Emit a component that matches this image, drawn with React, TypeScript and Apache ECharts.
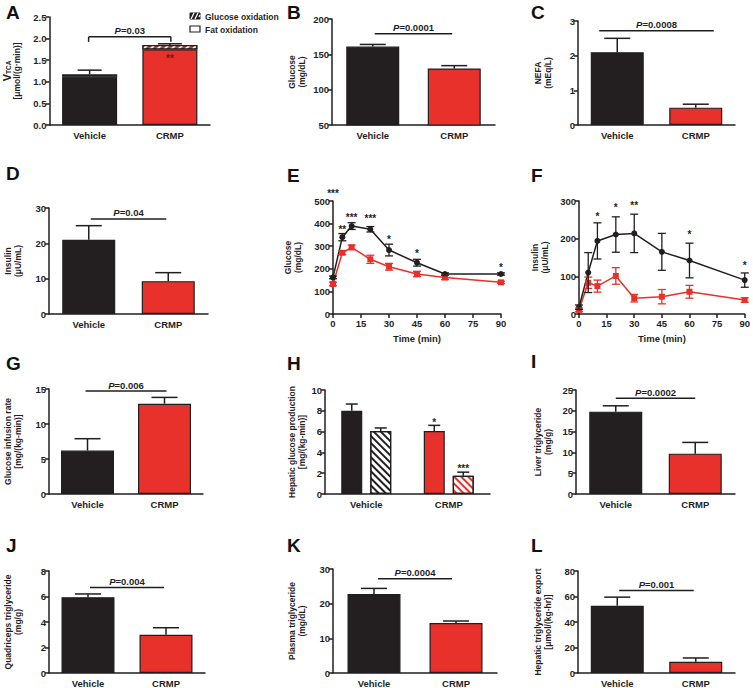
import React, { useEffect, useRef } from 'react';
import * as echarts from 'echarts';

// ---------------- data ----------------
const categories = ['Vehicle', 'CRMP'];

// A: V_TCA
const aFatOxidation = [1.12, 1.75];
const aGlucoseOxidation = [0.05, 0.1];
const aSem = [0.1, 0.03];
// B: glucose
const bGlucose = [161, 130];
const bSem = [3, 4];
// C: NEFA
const cNefa = [2.1, 0.5];
const cSem = [0.4, 0.1];
// D: insulin
const dInsulin = [21, 9.3];
const dSem = [4, 2.4];
// E: glucose time course
const timePoints = [0, 5, 10, 20, 30, 45, 60, 90];
const eVehicle = [162, 340, 389, 375, 283, 227, 177, 177];
const eVehicleSem = [6, 16, 15, 12, 26, 15, 5, 5];
const eCrmp = [133, 271, 295, 242, 209, 177, 162, 140];
const eCrmpSem = [8, 8, 10, 18, 15, 12, 10, 5];
const eStarTimes = [0, 5, 10, 20, 30, 45, 90];
const eStarLevels = [548, 389, 442, 435, 342, 279, 217];
const eStarText = ['***', '**', '***', '***', '*', '*', '*'];
// F: insulin time course
const fVehicle = [18, 110, 194, 211, 214, 165, 142, 90];
const fVehicleSem = [6, 53, 48, 47, 51, 49, 46, 19];
const fCrmp = [11, 83, 74, 101, 42, 46, 59, 37];
const fCrmpSem = [5, 15, 16, 22, 10, 19, 17, 6];
const fStarTimes = [10, 20, 30, 60, 90];
const fStarLevels = [267, 291, 296, 218, 137];
const fStarText = ['*', '*', '**', '*', '*'];
// G: glucose infusion rate
const gGir = [6.2, 12.9];
const gSem = [1.7, 0.9];
// H: hepatic glucose production (basal solid, clamp hatched)
const hBasal = [8.0, 6.05];
const hBasalSem = [0.65, 0.55];
const hClamp = [6.05, 1.75];
const hClampSem = [0.3, 0.35];
// I: liver TG
const iLiverTg = [19.8, 9.7];
const iSem = [1.4, 2.7];
// J: quadriceps TG
const jQuadTg = [5.95, 3.0];
const jSem = [0.25, 0.55];
// K: plasma TG
const kPlasmaTg = [22.8, 14.4];
const kSem = [1.6, 0.6];
// L: hepatic TG export
const lExport = [52.8, 8.8];
const lSem = [6.7, 3.0];

// P value annotations (panel order A,B,C,D,G,I,J,K,L)
const pText = ['0.03', '0.0001', '0.0008', '0.04', '0.006', '0.0002', '0.004', '0.0004', '0.001'];
const pLevel = [2.04, 179, 2.72, 26.9, 14.7, 23, 6.7, 27.2, 64.8];

// ---------------- style ----------------
const FONT = "'Liberation Sans', Arial, sans-serif";
const INK = '#1f1f1f';
const BLACK = '#231f20';
const RED = '#e8312a';
const FS = 9.5;
const NAME_FS = 8.5;

const layouts: any = {
  A: { left: 49, top: 17, width: 161, height: 108 },
  B: { left: 332, top: 19, width: 163, height: 106 },
  C: { left: 578, top: 21, width: 157, height: 104 },
  D: { left: 49, top: 208, width: 159, height: 106 },
  E: { left: 333, top: 201, width: 168, height: 113 },
  F: { left: 579, top: 201, width: 169, height: 113 },
  G: { left: 49, top: 389, width: 154, height: 105 },
  H: { left: 325, top: 390, width: 165, height: 104 },
  I: { left: 576, top: 390, width: 159, height: 104 },
  J: { left: 49, top: 571, width: 156, height: 105 },
  K: { left: 333, top: 569, width: 164, height: 107 },
  L: { left: 578, top: 571, width: 157, height: 105 },
};
const order = ['A', 'B', 'C', 'D', 'E', 'F', 'G', 'H', 'I', 'J', 'K', 'L'];
const letterPos: any = {
  A: [6, 3], B: [287, 3], C: [531, 3], D: [6, 164], E: [287, 166], F: [531, 166],
  G: [6, 354], H: [287, 354], I: [531, 352], J: [6, 536], K: [287, 536], L: [531, 536],
};

function yAxisCfg(i: number, min: number, max: number, interval: number, name: string, nameGap: number, fmt?: any, rich?: any) {
  return {
    type: 'value', gridIndex: i, min, max, interval,
    name, nameLocation: 'middle', nameGap, nameRotate: 90,
    nameTextStyle: { fontFamily: FONT, fontWeight: 'bold', fontSize: NAME_FS, color: INK, lineHeight: 10, align: 'center', rich },
    axisLine: { show: true, lineStyle: { color: INK, width: 1.5 } },
    axisTick: { show: true, length: 4, lineStyle: { color: INK, width: 1.5 } },
    axisLabel: { fontFamily: FONT, fontWeight: 'bold', fontSize: FS, color: INK, margin: 3, formatter: fmt },
    splitLine: { show: false },
  };
}

function xCatCfg(i: number) {
  return {
    type: 'category', gridIndex: i, data: categories, boundaryGap: true,
    axisLine: { show: true, lineStyle: { color: INK, width: 1.5 } },
    axisTick: { show: false },
    axisLabel: { fontFamily: FONT, fontWeight: 'bold', fontSize: FS, color: INK, margin: 5, interval: 0 },
  };
}

function xTimeCfg(i: number) {
  return {
    type: 'value', gridIndex: i, min: 0, max: 90, interval: 15,
    name: 'Time (min)', nameLocation: 'middle', nameGap: 19,
    nameTextStyle: { fontFamily: FONT, fontWeight: 'bold', fontSize: FS, color: INK },
    axisLine: { show: true, onZero: false, lineStyle: { color: INK, width: 1.5 } },
    axisTick: { show: true, length: 4, lineStyle: { color: INK, width: 1.5 } },
    axisLabel: { fontFamily: FONT, fontWeight: 'bold', fontSize: FS, color: INK, margin: 4 },
    splitLine: { show: false },
  };
}

function barSeries(i: number, values: number[], barWidth: number) {
  return {
    type: 'bar', xAxisIndex: i, yAxisIndex: i, barWidth,
    data: values.map((v, k) => ({ value: v, itemStyle: { color: k === 0 ? BLACK : RED } })),
    itemStyle: { borderColor: INK, borderWidth: 1.2 },
  };
}

function errUpSeries(i: number, tops: number[], bases: number[], capW: number, offset = 0) {
  return {
    type: 'custom', xAxisIndex: i, yAxisIndex: i, z: 5,
    data: tops.map((t, k) => [k, bases[k], t]),
    renderItem: (_p: any, api: any) => {
      const b = api.coord([api.value(0), api.value(1)]);
      const t = api.coord([api.value(0), api.value(2)]);
      const x = b[0] + offset;
      const st = { stroke: INK, lineWidth: 1.5 };
      return {
        type: 'group', children: [
          { type: 'line', shape: { x1: x, y1: b[1], x2: x, y2: t[1] }, style: st },
          { type: 'line', shape: { x1: x - capW / 2, y1: t[1], x2: x + capW / 2, y2: t[1] }, style: st },
        ],
      };
    },
  };
}

function errBothSeries(i: number, xs: number[], ys: number[], sems: number[], color: string) {
  return {
    type: 'custom', xAxisIndex: i, yAxisIndex: i, z: 4,
    data: xs.map((x, k) => [x, ys[k] - sems[k], ys[k] + sems[k]]),
    renderItem: (_p: any, api: any) => {
      const lo = api.coord([api.value(0), api.value(1)]);
      const hi = api.coord([api.value(0), api.value(2)]);
      const st = { stroke: color, lineWidth: 1.3 };
      const w = 4;
      return {
        type: 'group', children: [
          { type: 'line', shape: { x1: lo[0], y1: lo[1], x2: hi[0], y2: hi[1] }, style: st },
          { type: 'line', shape: { x1: hi[0] - w, y1: hi[1], x2: hi[0] + w, y2: hi[1] }, style: st },
          { type: 'line', shape: { x1: lo[0] - w, y1: lo[1], x2: lo[0] + w, y2: lo[1] }, style: st },
        ],
      };
    },
  };
}

function pSeries(i: number, level: number, label: string, ext: number, drop = 0) {
  return {
    type: 'custom', xAxisIndex: i, yAxisIndex: i, z: 6,
    data: [[0, level]],
    renderItem: (_p: any, api: any) => {
      const p0 = api.coord([0, api.value(1)]);
      const p1 = api.coord([1, api.value(1)]);
      const x0 = p0[0] - ext;
      const x1 = p1[0] + ext;
      const st = { stroke: INK, lineWidth: 1.5 };
      const children: any[] = [{ type: 'line', shape: { x1: x0, y1: p0[1], x2: x1, y2: p0[1] }, style: st }];
      if (drop) {
        children.push({ type: 'line', shape: { x1: x0, y1: p0[1], x2: x0, y2: p0[1] + drop }, style: st });
        children.push({ type: 'line', shape: { x1: x1, y1: p0[1], x2: x1, y2: p0[1] + drop }, style: st });
      }
      children.push({
        type: 'text', x: (x0 + x1) / 2, y: p0[1] - 1,
        style: {
          text: '{i|P}=' + label,
          rich: { i: { fontStyle: 'italic', fontWeight: 'bold', fontSize: FS, fontFamily: FONT, fill: INK } },
          fontSize: FS, fontWeight: 'bold', fontFamily: FONT, fill: INK, align: 'center', verticalAlign: 'bottom',
        },
      });
      return { type: 'group', children };
    },
  };
}

function starSeries(i: number, xs: number[], ys: number[], texts: string[], color: string, offsets?: number[]) {
  return {
    type: 'custom', xAxisIndex: i, yAxisIndex: i, z: 6,
    data: xs.map((x, k) => [x, ys[k]]),
    renderItem: (p: any, api: any) => {
      const c = api.coord([api.value(0), api.value(1)]);
      const off = offsets ? offsets[p.dataIndex] : 0;
      return {
        type: 'text', x: c[0] + off, y: c[1] + 3,
        style: { text: texts[p.dataIndex], fontSize: 10, fontWeight: 'bold', fontFamily: FONT, fill: color, align: 'center', verticalAlign: 'middle' },
      };
    },
  };
}

function stripes(color: string, rotation: number) {
  return { symbol: 'rect', symbolSize: 1, color, dashArrayX: [1, 0], dashArrayY: [2, 3], rotation };
}

function buildOption() {
  const grid: any[] = order.map((k) => ({ ...layouts[k], containLabel: false }));
  const xAxis: any[] = [];
  const yAxis: any[] = [];
  const series: any[] = [];
  const BW = 53;

  // A
  xAxis[0] = xCatCfg(0);
  yAxis[0] = yAxisCfg(0, 0, 2.5, 0.5, '{v|V}{s|TCA}\n[μmol/(g·min)]', 28, (v: number) => v.toFixed(1), {
    v: { fontSize: 11, fontWeight: 'bold', fontFamily: FONT, fill: INK },
    s: { fontSize: 6.5, fontWeight: 'bold', fontFamily: FONT, verticalAlign: 'bottom', fill: INK },
  });
  series.push({
    type: 'bar', xAxisIndex: 0, yAxisIndex: 0, stack: 'a', barWidth: 55,
    data: aFatOxidation.map((v, k) => ({ value: v, itemStyle: { color: k === 0 ? BLACK : RED } })),
    itemStyle: { borderColor: INK, borderWidth: 1.2 },
  });
  series.push({
    type: 'bar', xAxisIndex: 0, yAxisIndex: 0, stack: 'a', barWidth: 55,
    data: aGlucoseOxidation.map((v, k) => ({ value: v, itemStyle: { color: k === 0 ? BLACK : RED } })),
    itemStyle: { borderColor: INK, borderWidth: 1.2, decal: stripes('#ffffff', -Math.PI / 4) },
  });
  const aTotals = aFatOxidation.map((v, k) => v + aGlucoseOxidation[k]);
  series.push(errUpSeries(0, aTotals.map((v, k) => v + aSem[k]), aTotals, 24));
  series.push(pSeries(0, pLevel[0], pText[0], 1, 5));
  series.push(starSeries(0, [1], [1.62], ['**'], '#7a1510'));

  // simple bar panels
  const simple = [
    { idx: 1, vals: bGlucose, sem: bSem, min: 50, max: 200, step: 50, name: 'Glucose\n(mg/dL)', gap: 25, p: 1, ext: -2 },
    { idx: 2, vals: cNefa, sem: cSem, min: 0, max: 3, step: 1, name: 'NEFA\n(mEq/L)', gap: 25, p: 2, ext: 18 },
    { idx: 3, vals: dInsulin, sem: dSem, min: 0, max: 30, step: 10, name: 'Insulin\n(μU/mL)', gap: 26, p: 3, ext: -2 },
    { idx: 6, vals: gGir, sem: gSem, min: 0, max: 15, step: 5, name: 'Glucose infusion rate\n[mg/(kg-min)]', gap: 26, p: 4, ext: 2 },
    { idx: 8, vals: iLiverTg, sem: iSem, min: 0, max: 25, step: 5, name: 'Liver triglyceride\n(mg/g)', gap: 23, p: 5, ext: 0 },
    { idx: 9, vals: jQuadTg, sem: jSem, min: 0, max: 8, step: 2, name: 'Quadriceps triglyceride\n(mg/g)', gap: 26, p: 6, ext: -2 },
    { idx: 10, vals: kPlasmaTg, sem: kSem, min: 0, max: 30, step: 10, name: 'Plasma triglyceride\n(mg/dL)', gap: 26, p: 7, ext: -4 },
    { idx: 11, vals: lExport, sem: lSem, min: 0, max: 80, step: 20, name: 'Hepatic triglyceride export\n[μmol/(kg-hr)]', gap: 25, p: 8, ext: -2 },
  ];
  simple.forEach((s) => {
    xAxis[s.idx] = xCatCfg(s.idx);
    yAxis[s.idx] = yAxisCfg(s.idx, s.min, s.max, s.step, s.name, s.gap);
    series.push(barSeries(s.idx, s.vals, BW));
    series.push(errUpSeries(s.idx, s.vals.map((v, k) => v + s.sem[k]), s.vals, 26));
    series.push(pSeries(s.idx, pLevel[s.p], pText[s.p], s.ext));
  });

  // E
  xAxis[4] = xTimeCfg(4);
  yAxis[4] = yAxisCfg(4, 0, 500, 100, 'Glucose\n(mg/dL)', 30);
  series.push(errBothSeries(4, timePoints, eCrmp, eCrmpSem, RED));
  series.push({
    type: 'line', xAxisIndex: 4, yAxisIndex: 4, data: timePoints.map((t, k) => [t, eCrmp[k]]),
    symbol: 'rect', symbolSize: 6, color: RED, lineStyle: { width: 1.5, color: RED }, itemStyle: { color: RED },
  });
  series.push(errBothSeries(4, timePoints, eVehicle, eVehicleSem, BLACK));
  series.push({
    type: 'line', xAxisIndex: 4, yAxisIndex: 4, data: timePoints.map((t, k) => [t, eVehicle[k]]),
    symbol: 'circle', symbolSize: 6, color: BLACK, lineStyle: { width: 1.5, color: BLACK }, itemStyle: { color: BLACK },
  });
  series.push(starSeries(4, eStarTimes, eStarLevels, eStarText, INK));

  // F
  xAxis[5] = xTimeCfg(5);
  yAxis[5] = yAxisCfg(5, 0, 300, 100, 'Insulin\n(μU/mL)', 29);
  series.push(errBothSeries(5, timePoints, fCrmp, fCrmpSem, RED));
  series.push({
    type: 'line', xAxisIndex: 5, yAxisIndex: 5, data: timePoints.map((t, k) => [t, fCrmp[k]]),
    symbol: 'rect', symbolSize: 6, color: RED, lineStyle: { width: 1.5, color: RED }, itemStyle: { color: RED },
  });
  series.push(errBothSeries(5, timePoints, fVehicle, fVehicleSem, BLACK));
  series.push({
    type: 'line', xAxisIndex: 5, yAxisIndex: 5, data: timePoints.map((t, k) => [t, fVehicle[k]]),
    symbol: 'circle', symbolSize: 6, color: BLACK, lineStyle: { width: 1.5, color: BLACK }, itemStyle: { color: BLACK },
  });
  series.push(starSeries(5, fStarTimes, fStarLevels, fStarText, INK));

  // H
  xAxis[7] = xCatCfg(7);
  yAxis[7] = yAxisCfg(7, 0, 10, 2, 'Hepatic glucose production\n[mg/(kg-min)]', 18);
  series.push({
    type: 'bar', xAxisIndex: 7, yAxisIndex: 7, barWidth: 21, barGap: '38%',
    data: hBasal.map((v, k) => ({ value: v, itemStyle: { color: k === 0 ? BLACK : RED } })),
    itemStyle: { borderColor: INK, borderWidth: 1.2 },
  });
  series.push({
    type: 'bar', xAxisIndex: 7, yAxisIndex: 7, barWidth: 21, barGap: '38%',
    data: hClamp.map((v, k) => ({
      value: v,
      itemStyle: { color: '#ffffff', decal: stripes(k === 0 ? BLACK : RED, Math.PI / 4) },
    })),
    itemStyle: { borderColor: INK, borderWidth: 1.2 },
  });
  series.push(errUpSeries(7, hBasal.map((v, k) => v + hBasalSem[k]), hBasal, 12, -14.5));
  series.push(errUpSeries(7, hClamp.map((v, k) => v + hClampSem[k]), hClamp, 12, 14.5));
  series.push(starSeries(7, [1, 1], [7.2, 2.7], ['*', '***'], INK, [-14.5, 14.5]));

  const graphic: any[] = order.map((k) => ({
    type: 'text', x: letterPos[k][0], y: letterPos[k][1],
    style: { text: k, fontSize: 19, fontWeight: 'bold', fontFamily: FONT, fill: '#111', verticalAlign: 'top' },
  }));
  // legend for A
  graphic.push({ type: 'rect', shape: { x: 190, y: 13, width: 10, height: 6 }, style: { fill: BLACK, stroke: INK, lineWidth: 1 } });
  [[191, 19, 194, 13], [195, 19, 198, 13], [199, 17, 200, 15]].forEach((l) =>
    graphic.push({ type: 'line', shape: { x1: l[0], y1: l[1], x2: l[2], y2: l[3] }, style: { stroke: '#fff', lineWidth: 1.2 } })
  );
  graphic.push({ type: 'rect', shape: { x: 190, y: 26, width: 10, height: 6 }, style: { fill: '#fff', stroke: INK, lineWidth: 1.2 } });
  graphic.push({ type: 'text', x: 205, y: 16.5, style: { text: 'Glucose oxidation', fontSize: 8.5, fontWeight: 'bold', fontFamily: FONT, fill: INK, verticalAlign: 'middle' } });
  graphic.push({ type: 'text', x: 205, y: 29.5, style: { text: 'Fat oxidation', fontSize: 8.5, fontWeight: 'bold', fontFamily: FONT, fill: INK, verticalAlign: 'middle' } });

  return { animation: false, backgroundColor: '#ffffff', grid, xAxis, yAxis, series, graphic };
}

export default function App() {
  const ref = useRef<HTMLDivElement>(null);
  useEffect(() => {
    document.body.style.margin = '0';
    const chart = echarts.init(ref.current as HTMLDivElement, null, { renderer: 'svg' });
    chart.setOption(buildOption() as any);
    return () => chart.dispose();
  }, []);
  return <div ref={ref} style={{ width: 753, height: 688 }} />;
}
